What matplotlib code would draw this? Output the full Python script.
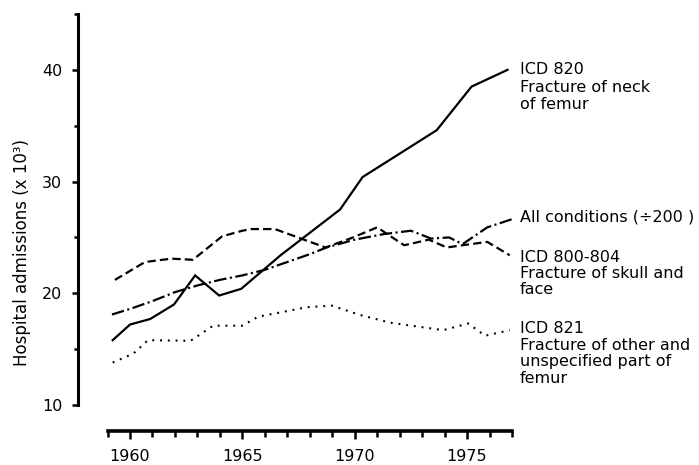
import matplotlib
matplotlib.use("Agg")
import matplotlib.pyplot as plt

# ICD 820 - fracture of neck of femur
neck_years = [1959.23, 1960.0, 1960.9, 1961.96, 1962.9, 1963.97, 1964.95,
              1966.7, 1969.35, 1970.35, 1973.65, 1975.2, 1976.8]
neck_vals = [15.8, 17.2, 17.7, 19.0, 21.6, 19.8, 20.4,
             23.4, 27.5, 30.4, 34.6, 38.5, 40.0]

# ICD 800-804 - fracture of skull and face
skull_years = [1959.33, 1960.67, 1961.85, 1962.8, 1964.1, 1965.0, 1965.4,
               1966.45, 1968.7, 1969.8, 1971.0, 1972.2, 1973.3, 1974.1,
               1974.8, 1975.9, 1976.9]
skull_vals = [21.2, 22.8, 23.1, 23.0, 25.1, 25.6, 25.75,
              25.75, 24.1, 24.9, 25.9, 24.3, 24.8, 24.1,
              24.3, 24.6, 23.4]

# all conditions (divided by 200)
all_years = [1959.2, 1960.0, 1961.0, 1962.0, 1963.0, 1964.0, 1965.0, 1966.0,
             1967.0, 1968.0, 1968.75, 1970.0, 1971.3, 1972.5, 1973.4, 1974.2,
             1974.8, 1975.9, 1977.1]
all_vals = [18.1, 18.6, 19.3, 20.1, 20.7, 21.2, 21.6, 22.1,
            22.8, 23.5, 24.1, 24.8, 25.3, 25.6, 24.9, 25.0,
            24.4, 25.9, 26.7]

# ICD 821 - other / unspecified part of femur
other_years = [1959.23, 1960.15, 1960.8, 1962.7, 1963.7, 1965.0, 1965.7,
               1967.86, 1968.97, 1970.24, 1971.57, 1973.94, 1975.05,
               1975.8, 1976.9]
other_vals = [13.8, 14.6, 15.8, 15.75, 17.1, 17.1, 17.9,
              18.75, 18.9, 18.06, 17.37, 16.7, 17.3,
              16.2, 16.7]

y_ticks = [10, 20, 30, 40]
x_ticks = [1960, 1965, 1970, 1975]

plt.rcParams["font.family"] = ["DejaVu Sans"]
plt.rcParams["lines.scale_dashes"] = False

W, H = 699, 465
fig = plt.figure(figsize=(W / 100, H / 100), dpi=100)
ax = fig.add_axes([107.5 / W, (H - 405) / H, 404.5 / W, 391 / H])

lw = 1.6
ax.plot(neck_years, neck_vals, color="black", lw=lw, solid_joinstyle="miter")
ax.plot(skull_years, skull_vals, color="black", lw=lw, linestyle=(0, (6, 3)))
ax.plot(all_years, all_vals, color="black", lw=lw,
        linestyle=(0, (9, 2.5, 1.5, 2.5)))
ax.plot(other_years, other_vals, color="black", lw=1.5,
        linestyle=(0, (1.4, 4.2)))

ax.set_xlim(1959, 1977)
ax.set_ylim(10, 45)

for side in ("top", "right"):
    ax.spines[side].set_visible(False)
ax.spines["left"].set_position(("outward", 21))
ax.spines["bottom"].set_position(("outward", 19))
ax.spines["left"].set_bounds(10, 45)
ax.spines["bottom"].set_bounds(1959, 1977)
ax.spines["left"].set_linewidth(2.2)
ax.spines["bottom"].set_linewidth(2.6)

ax.set_yticks(y_ticks)
ax.set_yticks([15, 25, 35, 45], minor=True)
ax.set_xticks(x_ticks)
ax.set_xticks(range(1959, 1978), minor=True)
ax.set_xticklabels([str(t) for t in x_ticks])
ax.tick_params(axis="y", which="major", length=4.5, width=1.8, pad=7,
               labelsize=11.5)
ax.tick_params(axis="y", which="minor", length=3, width=1.8)
ax.tick_params(axis="x", which="major", length=5.5, width=1.8, pad=7,
               labelsize=11.5)
ax.tick_params(axis="x", which="minor", length=4, width=1.8)

fig.text(22.5 / W, 1 - 252 / H, "Hospital admissions (x 10\u00b3)",
         rotation=90, ha="center", va="center", fontsize=12)

# series labels at the right
labels = [
    ("ICD 820", 74),
    ("Fracture of neck", 92),
    ("of femur", 108.5),
    ("All conditions (\u00f7200 )", 221.5),
    ("ICD 800-804", 261.5),
    ("Fracture of skull and", 278),
    ("face", 294.5),
    ("ICD 821", 333),
    ("Fracture of other and", 349.5),
    ("unspecified part of", 366),
    ("femur", 382.5),
]
for text, yb in labels:
    fig.text(520 / W, 1 - yb / H, text, ha="left", va="baseline",
             fontsize=11.5)

fig.savefig("out.png", dpi=100, facecolor="white")
